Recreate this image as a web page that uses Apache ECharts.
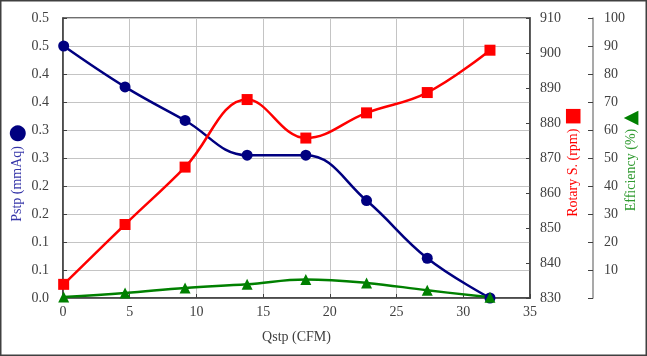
<!DOCTYPE html>
<html>
<head>
<meta charset="utf-8">
<script src="https://cdn.jsdelivr.net/npm/echarts@6/dist/echarts.min.js"></script>
<style>
html,body{margin:0;padding:0;background:#fff;}
#c{width:647px;height:356px;}
</style>
</head>
<body>
<div id="c"></div>
<script>
// Data
const qstp = [0.05, 4.65, 9.15, 13.8, 18.2, 22.75, 27.3, 32.0];
const pstp = [0.450, 0.377, 0.317, 0.255, 0.255, 0.174, 0.071, 0.0];
const rpm = [833.9, 851.0, 867.4, 886.7, 875.7, 882.9, 888.7, 900.8];
const eff = [0.36, 1.8, 3.6, 4.9, 6.6, 5.4, 2.75, 0.25];

const FONT = '"Liberation Serif", "Times New Roman", serif';
const SYM = '"DejaVu Sans", sans-serif';
const AX = '#404040';

function pairs(xs, ys){ return xs.map((x,i)=>[x, ys[i]]); }

const chart = echarts.init(document.getElementById('c'));
chart.setOption({
  animation: false,
  backgroundColor: '#fff',
  grid: {left: 63, right: 117, top: 18, bottom: 58, show: true, borderColor: AX, borderWidth: 1.5,
    backgroundColor: 'transparent', containLabel: false, outerBoundsMode: 'none'},
  graphic: [{
    type: 'rect', silent: true, z: 100,
    shape: {x: 0.75, y: 0.75, width: 645.5, height: 354.5},
    style: {fill: 'none', stroke: '#404040', lineWidth: 1.5}
  }],
  xAxis: {
    type: 'value', min: 0, max: 35, interval: 5,
    name: 'Qstp (CFM)', nameLocation: 'middle', nameGap: 32, nameMoveOverlap: false,
    nameTextStyle: {fontFamily: FONT, fontSize: 14, color: AX},
    axisLine: {show: true, lineStyle: {color: AX, width: 1.5}},
    axisTick: {show: true, inside: true, length: 4, lineStyle: {color: AX}},
    axisLabel: {fontFamily: FONT, fontSize: 14, color: AX, margin: 7},
    splitLine: {show: true, lineStyle: {color: '#c4c4c4', width: 1}}
  },
  yAxis: [{
    type: 'value', min: 0, max: 0.5, interval: 0.05, position: 'left',
    name: '{t|Pstp (mmAq)} {s|●}', nameLocation: 'middle', nameGap: 35, nameMoveOverlap: false,
    nameTextStyle: {fontFamily: FONT, fontSize: 14, padding: [0, 30, 0, 0],
      rich: {t: {color: '#3535a8', fontFamily: FONT, fontSize: 14}, s: {color: '#000080', fontFamily: SYM, fontSize: 21}}},
    axisLine: {show: true, lineStyle: {color: AX, width: 1.5}},
    axisTick: {show: true, inside: true, length: 4, lineStyle: {color: AX}},
    axisLabel: {fontFamily: FONT, fontSize: 14, color: AX, margin: 14,
      formatter: v => (Math.round(v * 10 + 1e-6) / 10).toFixed(1)},
    splitLine: {show: true, lineStyle: {color: '#c4c4c4', width: 1}}
  }, {
    type: 'value', min: 830, max: 910, interval: 10, position: 'right',
    name: '{t|Rotary S. (rpm)} {s|■}', nameLocation: 'middle', nameGap: 34, nameMoveOverlap: false,
    nameTextStyle: {fontFamily: FONT, fontSize: 14, padding: [0, 8, 0, 0],
      rich: {t: {color: '#ff0000', fontFamily: FONT, fontSize: 14}, s: {color: '#ff0000', fontFamily: SYM, fontSize: 19}}},
    axisLine: {show: true, lineStyle: {color: AX, width: 1.5}},
    axisTick: {show: true, inside: true, length: 4, lineStyle: {color: AX}},
    axisLabel: {fontFamily: FONT, fontSize: 14, color: AX, margin: 10},
    splitLine: {show: false}
  }, {
    type: 'value', min: 0, max: 100, interval: 10, position: 'right', offset: 63,
    name: '{t|Efficiency (%)} {s|▲}', nameLocation: 'middle', nameGap: 29, nameMoveOverlap: false,
    nameTextStyle: {fontFamily: FONT, fontSize: 14, padding: [0, 6, 0, 0],
      rich: {t: {color: '#2f9a2f', fontFamily: FONT, fontSize: 14}, s: {color: '#008000', fontFamily: SYM, fontSize: 19}}},
    axisLine: {show: true, lineStyle: {color: '#8c8c8c', width: 1.5}},
    axisTick: {show: true, inside: true, length: 5, lineStyle: {color: AX}},
    axisLabel: {fontFamily: FONT, fontSize: 14, color: AX, margin: 11,
      formatter: v => v === 0 ? '' : String(v)},
    splitLine: {show: false}
  }],
  series: [{
    type: 'line', yAxisIndex: 0, data: pairs(qstp, pstp), smooth: 0.4,
    symbol: 'circle', symbolSize: 11,
    lineStyle: {color: '#000080', width: 2.5}, itemStyle: {color: '#000080'}
  }, {
    type: 'line', yAxisIndex: 1, data: pairs(qstp, rpm), smooth: 0.4,
    symbol: 'rect', symbolSize: 11,
    lineStyle: {color: '#ff0000', width: 2.5}, itemStyle: {color: '#ff0000'}
  }, {
    type: 'line', yAxisIndex: 2, data: pairs(qstp, eff), smooth: 0.4,
    symbol: 'triangle', symbolSize: 11,
    lineStyle: {color: '#008000', width: 2.5}, itemStyle: {color: '#008000'}
  }]
});
</script>
</body>
</html>
